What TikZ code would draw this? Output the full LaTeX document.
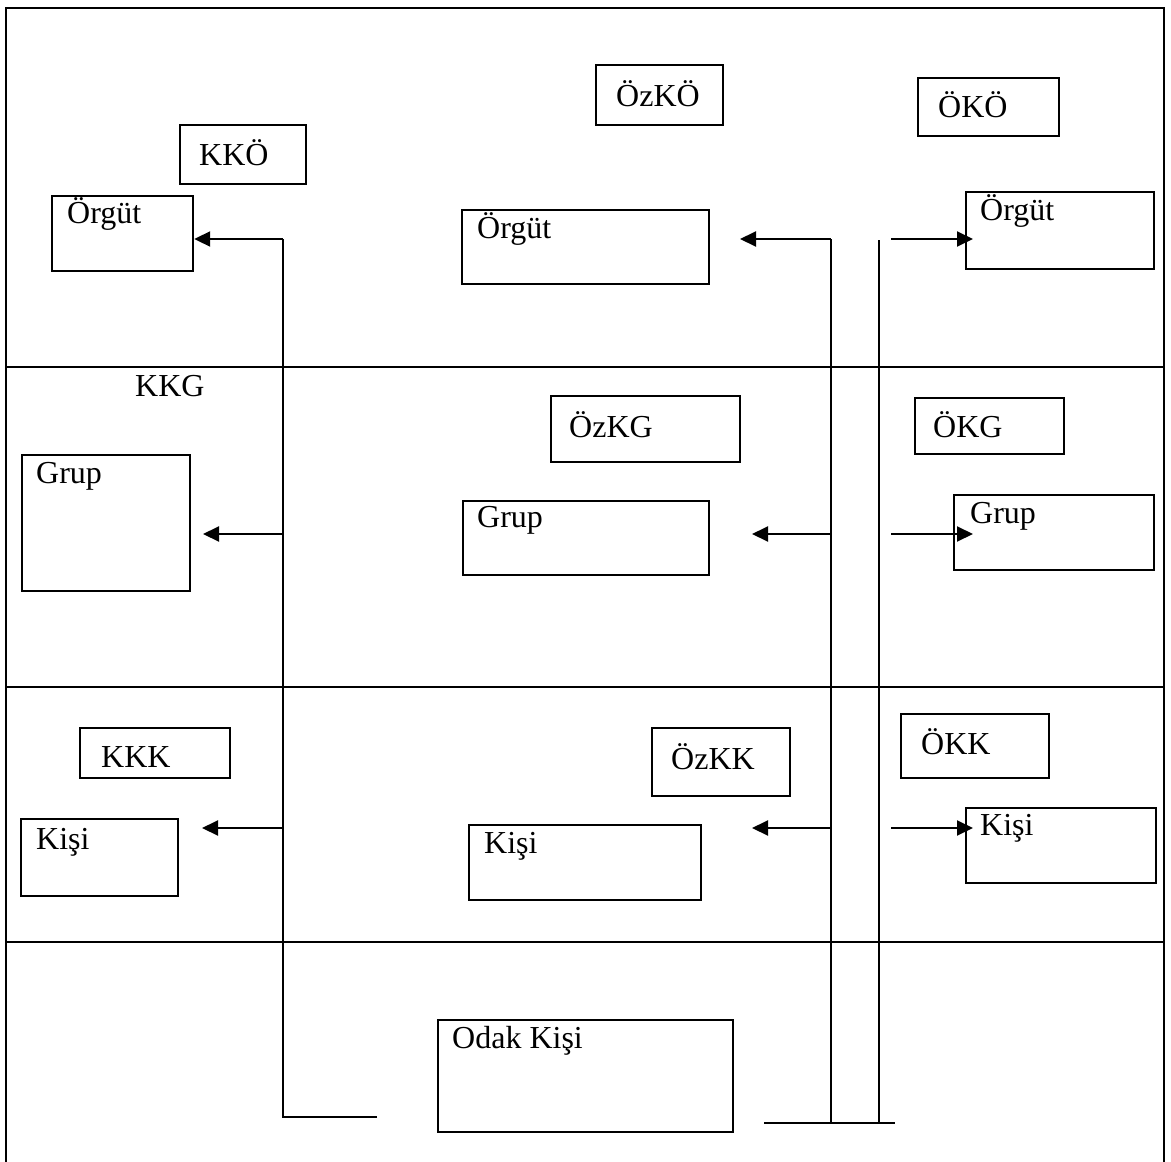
\documentclass[tikz,border=0pt]{standalone}
\usepackage{fontspec}
\setmainfont{Liberation Serif}
\usetikzlibrary{arrows.meta}

\begin{document}
\begin{tikzpicture}[x=1pt, y=-1pt,
        kutu/.style={draw, rectangle, line width=2.2pt, anchor=north west, inner sep=0pt},
        yazi/.style={anchor=base west, inner sep=0pt, font=\fontsize{32}{38}\selectfont},
        cizgi/.style={line width=1.6pt},
        ok/.style={line width=2pt, -{Triangle[length=16pt, width=15pt]}}]
        \useasboundingbox (0,0) rectangle (1171,1162);

        % Frame and rows
        \draw[line width=2.4pt] (6,1162) -- (6,8) -- (1164,8) -- (1164,1162);
        \draw[line width=1.9pt] (6,367) -- (1164,367);
        \draw[line width=1.9pt] (6,687) -- (1164,687);
        \draw[line width=1.9pt] (6,942) -- (1164,942);

        % Orgut row
        \node[kutu, minimum width=126, minimum height=59] (kko) at (179,124) {};
        \node[yazi] (kkoT) at (199,165) {KKÖ};
        \node[kutu, minimum width=141, minimum height=75] (orgut1) at (51,195) {};
        \node[yazi] (orgut1T) at (67,223) {Örgüt};
        \node[kutu, minimum width=127, minimum height=60] (ozko) at (595,64) {};
        \node[yazi] (ozkoT) at (616,106) {ÖzKÖ};
        \node[kutu, minimum width=141, minimum height=58] (oko) at (917,77) {};
        \node[yazi] (okoT) at (938,117) {ÖKÖ};
        \node[kutu, minimum width=247, minimum height=74] (orgut2) at (461,209) {};
        \node[yazi] (orgut2T) at (477,238) {Örgüt};
        \node[kutu, minimum width=188, minimum height=77] (orgut3) at (965,191) {};
        \node[yazi] (orgut3T) at (980,220) {Örgüt};

        % Grup row
        \node[yazi] (kkgT) at (135,396) {KKG};
        \node[kutu, minimum width=168, minimum height=136] (grup1) at (21,454) {};
        \node[yazi] (grup1T) at (36,483) {Grup};
        \node[kutu, minimum width=189, minimum height=66] (ozkg) at (550,395) {};
        \node[yazi] (ozkgT) at (569,437) {ÖzKG};
        \node[kutu, minimum width=149, minimum height=56] (okg) at (914,397) {};
        \node[yazi] (okgT) at (933,437) {ÖKG};
        \node[kutu, minimum width=246, minimum height=74] (grup2) at (462,500) {};
        \node[yazi] (grup2T) at (477,527) {Grup};
        \node[kutu, minimum width=200, minimum height=75] (grup3) at (953,494) {};
        \node[yazi] (grup3T) at (970,523) {Grup};

        % Kisi row
        \node[kutu, minimum width=150, minimum height=50] (kkk) at (79,727) {};
        \node[yazi] (kkkT) at (101,767) {KKK};
        \node[kutu, minimum width=138, minimum height=68] (ozkk) at (651,727) {};
        \node[yazi] (ozkkT) at (671,769) {ÖzKK};
        \node[kutu, minimum width=148, minimum height=64] (okk) at (900,713) {};
        \node[yazi] (okkT) at (921,754) {ÖKK};
        \node[kutu, minimum width=157, minimum height=77] (kisi1) at (20,818) {};
        \node[yazi] (kisi1T) at (36,849) {Kişi};
        \node[kutu, minimum width=232, minimum height=75] (kisi2) at (468,824) {};
        \node[yazi] (kisi2T) at (484,853) {Kişi};
        \node[kutu, minimum width=190, minimum height=75] (kisi3) at (965,807) {};
        \node[yazi] (kisi3T) at (980,835) {Kişi};

        % Odak kisi
        \node[kutu, minimum width=295, minimum height=112] (odak) at (437,1019) {};
        \node[yazi] (odakT) at (452,1048) {Odak Kişi};

        % Left line
        \coordinate (k1a) at (283,239);
        \coordinate (k1b) at (283,534);
        \coordinate (k1c) at (283,828);
        \coordinate (k1d) at (283,1117);
        \coordinate (k1e) at (377,1117);
        \coordinate (u1b) at (203,534);
        \coordinate (u1c) at (202,828);
        \draw[cizgi] (k1e) -- (k1d) -- (k1a);
        \draw[ok] (k1a) -- (orgut1.east |- k1a);
        \draw[ok] (k1b) -- (u1b);
        \draw[ok] (k1c) -- (u1c);

        % Middle line
        \coordinate (k2a) at (831,239);
        \coordinate (k2b) at (831,534);
        \coordinate (k2c) at (831,828);
        \coordinate (k2d) at (831,1123);
        \coordinate (u2a) at (740,239);
        \coordinate (u2b) at (752,534);
        \coordinate (u2c) at (752,828);
        \draw[cizgi] (k2d) -- (k2a);
        \draw[ok] (k2a) -- (u2a);
        \draw[ok] (k2b) -- (u2b);
        \draw[ok] (k2c) -- (u2c);

        % Right line
        \coordinate (k3a) at (879,240);
        \coordinate (k3d) at (879,1123);
        \coordinate (t1) at (764,1123);
        \coordinate (t2) at (895,1123);
        \draw[cizgi] (k3d) -- (k3a);
        \draw[cizgi] (t1) -- (t2);
        \coordinate (s3a) at (891,239);
        \coordinate (s3b) at (891,534);
        \coordinate (s3c) at (891,828);
        \coordinate (u3a) at (973,239);
        \coordinate (u3b) at (973,534);
        \coordinate (u3c) at (973,828);
        \draw[ok] (s3a) -- (u3a);
        \draw[ok] (s3b) -- (u3b);
        \draw[ok] (s3c) -- (u3c);
    \end{tikzpicture}
\end{document}
